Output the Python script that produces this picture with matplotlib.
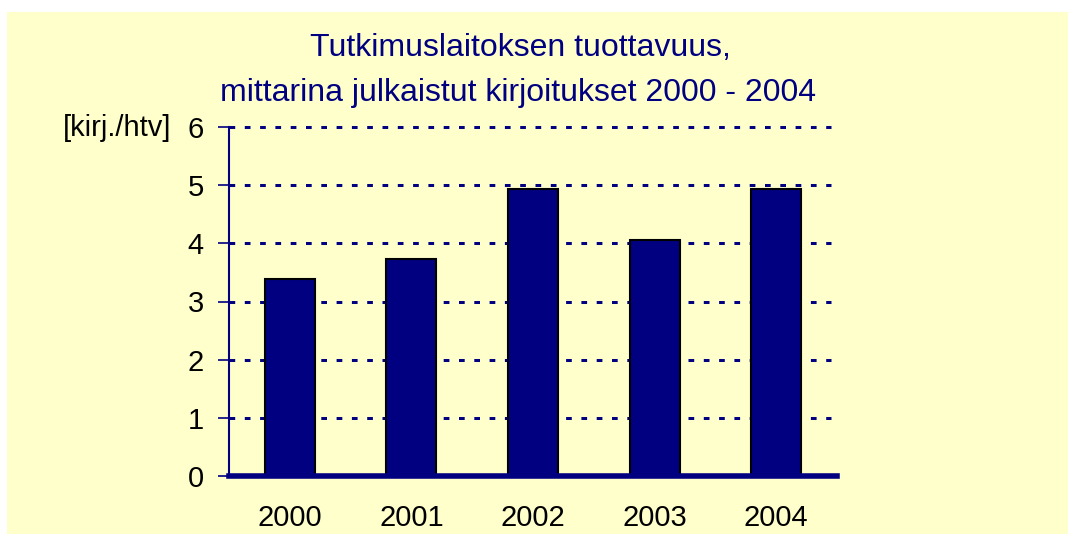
import matplotlib.pyplot as plt
from matplotlib.patches import Rectangle

plt.rcParams['font.family'] = ['Liberation Sans', 'DejaVu Sans']

# data
years = ['2000', '2001', '2002', '2003', '2004']
values = [3.39, 3.73, 4.94, 4.06, 4.94]
yticks = [0, 1, 2, 3, 4, 5, 6]

navy = '#000080'
bg = '#FFFFCC'

fig = plt.figure(figsize=(10.68, 5.34), dpi=100)
fig.patch.set_facecolor('white')
fig.patches.append(Rectangle((7 / 1068, 0), 1 - 7 / 1068, 1 - 12 / 534,
                             transform=fig.transFigure, facecolor=bg,
                             edgecolor='none', zorder=-10))

# axes box in pixels: x 229..837, y 127..476 (from top)
W, H = 1068, 534
ax = fig.add_axes([229 / W, 1 - 476 / H, (837 - 229) / W, (476 - 127) / H])
ax.set_facecolor('none')

x = list(range(len(years)))
ax.bar(x, values, width=0.41, color=navy, edgecolor='black', linewidth=1.5, zorder=3)

ax.set_xlim(-0.5, len(years) - 0.5)
ax.set_ylim(0, 6)
ax.set_yticks(yticks)
ax.set_yticklabels([str(t) for t in yticks], fontsize=21)
ax.set_xticks(x)
ax.set_xticklabels(years, fontsize=21)

ax.tick_params(axis='x', length=0, pad=20)
ax.tick_params(axis='y', length=8, width=1.2, color=navy, direction='out', pad=10)

# dotted gridlines
for t in yticks[1:]:
    ax.plot([-0.5, 4.45], [t, t], color=navy, linestyle=(0, (1.9, 3.2)),
            linewidth=2.16, dash_capstyle='butt', zorder=1, clip_on=False)

for s in ['top', 'right']:
    ax.spines[s].set_visible(False)
ax.spines['left'].set_color(navy)
ax.spines['left'].set_linewidth(1.5)
ax.spines['bottom'].set_color(navy)
ax.spines['bottom'].set_linewidth(4)
ax.spines['bottom'].set_zorder(4)

fig.text(520 / W, 1 - 48 / H, 'Tutkimuslaitoksen tuottavuus,', ha='center', va='center',
         fontsize=23, color=navy)
fig.text(518 / W, 1 - 93 / H, 'mittarina julkaistut kirjoitukset 2000 - 2004', ha='center',
         va='center', fontsize=23, color=navy)
fig.text(63 / W, 1 - 128 / H, '[kirj./htv]', ha='left', va='center', fontsize=21, color='black')

fig.savefig('out.png', dpi=100, facecolor=fig.get_facecolor())
